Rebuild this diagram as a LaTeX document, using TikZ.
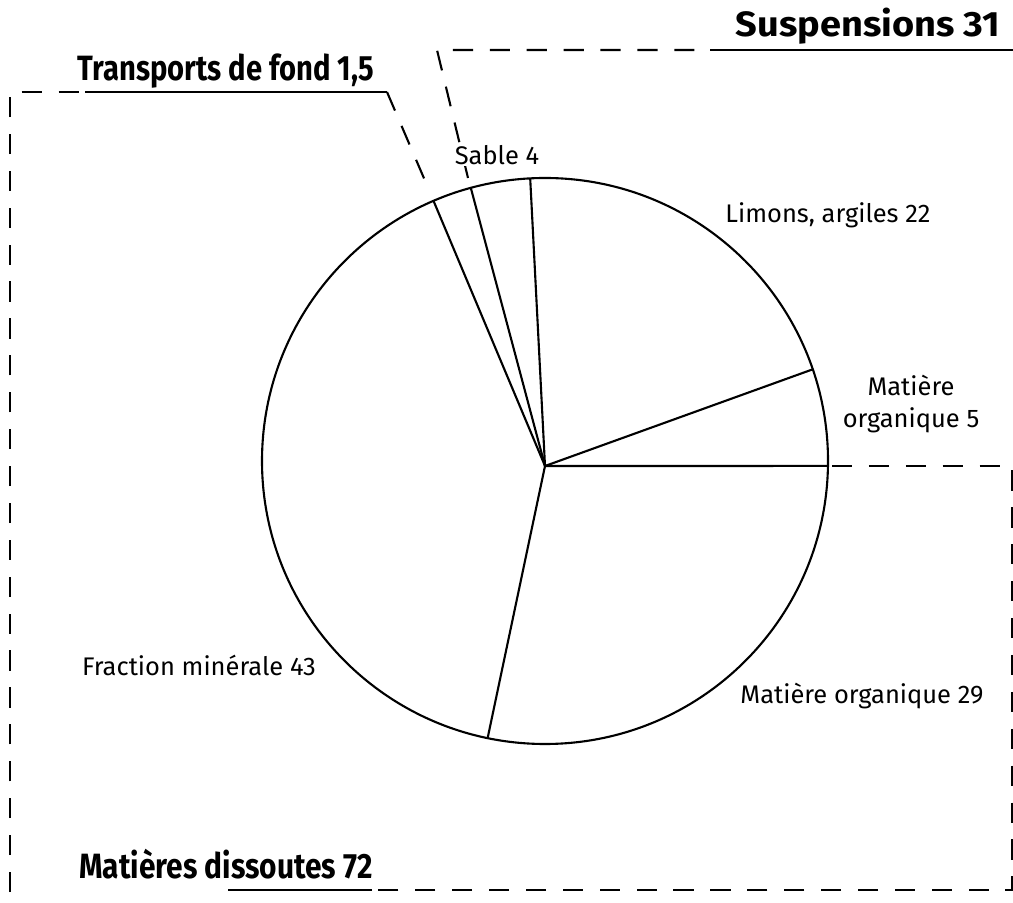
\documentclass[tikz,border=0pt]{standalone}
\usepackage{fontspec}
\setmainfont{Fira Sans}
\usetikzlibrary{calc}
\begin{document}
\begin{tikzpicture}[x=0.02cm,y=0.02cm,
    title/.style={font=\fontsize{20}{24}\selectfont\bfseries,inner sep=1pt},
    label/.style={font=\fontsize{14.5}{18.5}\selectfont,inner sep=1pt,align=center},
    dashline/.style={dash pattern=on 11.5pt off 9.5pt,line width=1.2pt},
    pieline/.style={line width=1.2pt}]
            \useasboundingbox (0,0) rectangle (1013,902);

            \coordinate (C) at (545,441);
            \coordinate (O) at (545,436);
            \coordinate (P1) at ($(C)+(-1:283)$);
            \coordinate (P2) at ($(C)+(18.9:283)$);
            \coordinate (P3) at ($(C)+(93:283)$);
            \coordinate (P4) at ($(C)+(105.2:283)$);
            \coordinate (P5) at ($(C)+(113.2:283)$);
            \coordinate (P6) at ($(C)+(258.3:283)$);

            \draw[pieline] (C) circle (283);
            \foreach \p in {P1,P2,P3,P4,P5,P6}
                \draw[pieline] (O) -- (\p);

            % transports de fond
            \draw[dashline] (10,10) -- (10,810) -- (85,810);
            \draw[pieline] (85,810) -- (387,810);
            \draw[dashline] (387,810) -- (429,712);

            % suspensions
            \draw[dashline] (468,724) -- (437,852) -- (710,852);
            \draw[pieline] (710,852) -- (1013,852);

            % matieres dissoutes
            \draw[dashline] (832,436) -- (1012,436) -- (1012,12) -- (372,12);
            \draw[pieline] (372,12) -- (228,12);

            \node[title] (T) at (226,831) {\scalebox{0.83}[1]{Transports de fond 1,5}};
            \node[title] (S) at (868,876) {\scalebox{1.08}[1]{Suspensions 31}};
            \node[title] (D) at (226,38) {\scalebox{0.85}[1]{Matières dissoutes 72}};

            \node[label,fill=white] (sab) at (497,747) {Sable 4};
            \node[label] (lim) at (828,687) {Limons, argiles 22};
            \node[label] (mo5) at (911,498) {Matière\\organique 5};
            \node[label] (fm) at (199,237) {Fraction minérale 43};
            \node[label] (mo29) at (862,206) {Matière organique 29};
\end{tikzpicture}
\end{document}
